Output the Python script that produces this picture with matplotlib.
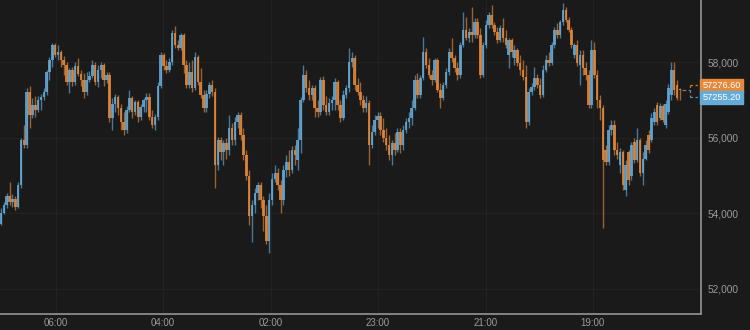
import numpy as np
import matplotlib
matplotlib.use('Agg')
import matplotlib.pyplot as plt
from matplotlib.ticker import FuncFormatter

plt.rcParams['font.family'] = ['Liberation Sans', 'DejaVu Sans']

# candle data (oldest on the left)
opens = [53730, 54020, 54210, 54450, 54290, 54390, 54180, 54740, 55930, 55800,
         57200, 56590, 56860, 56720, 56990, 57070, 57200, 57730, 58050, 58450,
         58180, 58260, 58050, 57920, 57470, 57790, 57470, 57890, 57680, 57520,
         57200, 57520, 57630, 57920, 57470, 57790, 57920, 57520, 57650, 56510,
         56880, 57070, 56780, 56410, 56200, 56720, 57040, 56670, 56940, 56540,
         56800, 56990, 57070, 56540, 56330, 56540, 57360, 58180, 57890, 57790,
         58000, 58770, 58450, 58370, 58710, 57920, 57390, 57730, 57310, 58130,
         57470, 57120, 56780, 57150, 57390, 57200, 55270, 55930, 55610, 55850,
         55670, 56250, 55930, 56410, 56590, 56060, 55530, 55000, 53940, 54210,
         54550, 54740, 54340, 53940, 53280, 54340, 54920, 55080, 54740, 54340,
         55140, 55350, 55140, 55670, 55400, 55930, 56990, 57650, 57310, 57120,
         57310, 56780, 56670, 57520, 56860, 56670, 56910, 56990, 57470, 56860,
         56510, 57120, 57310, 58000, 58100, 57390, 57200, 56990, 56780, 56910,
         55800, 56140, 56460, 56570, 56200, 55980, 55800, 55530, 55850, 55670,
         56140, 55800, 56200, 56410, 56510, 56780, 57520, 57120, 57570, 58260,
         57920, 57650, 57520, 58050, 57260, 57040, 57390, 57730, 58260, 58100,
         57840, 57650, 58450, 58850, 58630, 58790, 58710, 59060, 58710, 57650,
         58450, 58980, 59240, 58980, 58790, 58580, 58900, 58630, 58180, 58580,
         58100, 58320, 57970, 57790, 57600, 56410, 57200, 57330, 57570, 57390,
         57120, 57790, 58050, 57970, 58450, 58850, 58710, 59060, 59380, 59110,
         58850, 58180, 58450, 57920, 58180, 57840, 57650, 56860, 58320, 57650,
         56990, 56780, 55670, 55350, 56200, 56330, 55670, 55270, 55610, 54610,
         55610, 55000, 55880, 55400, 55930, 55060, 55450, 56060, 55930, 56410,
         56860, 56510, 56830, 56330, 56670, 57120, 57790, 57390, 57290]
highs = [54130, 54290, 54530, 54820, 54500, 54450, 54820, 55980, 56330, 57310,
         57360, 57040, 57100, 57100, 57150, 57310, 57790, 58130, 58500, 58500,
         58450, 58320, 58160, 58000, 57840, 57860, 58000, 58100, 57790, 57710,
         57730, 57760, 58050, 58000, 57920, 58000, 57970, 57730, 57730, 57040,
         57150, 57120, 56880, 56670, 56830, 57260, 57100, 56990, 56990, 56880,
         57040, 57180, 57180, 56720, 56620, 57470, 58260, 58240, 58050, 58100,
         58850, 58950, 58580, 58770, 58770, 58050, 58000, 58050, 58260, 58180,
         57840, 57260, 57260, 57470, 57520, 57310, 56010, 56010, 55930, 55980,
         56590, 56380, 56540, 56670, 56670, 56250, 55670, 55140, 54340, 54660,
         54820, 54820, 54470, 54210, 54550, 55080, 55270, 55190, 54870, 55270,
         55530, 55670, 55770, 55800, 56270, 57070, 57920, 57790, 57520, 57390,
         57390, 56990, 57600, 57630, 57100, 57040, 57100, 57570, 57520, 56990,
         57260, 57390, 58370, 58260, 58180, 57570, 57470, 57120, 57100, 56990,
         56330, 56590, 56670, 56670, 56510, 56250, 56060, 55930, 56120, 56250,
         56250, 56330, 56510, 56670, 56990, 57650, 57710, 57650, 58660, 58370,
         58100, 57790, 58100, 58100, 57440, 57470, 57840, 58370, 58630, 58180,
         58000, 58530, 59320, 59190, 58900, 59460, 59160, 59160, 58900, 58530,
         59110, 59320, 59510, 59060, 58920, 58980, 59160, 58850, 58630, 58630,
         58450, 58370, 58180, 58050, 57920, 57310, 57440, 57860, 57680, 57570,
         57920, 58180, 58260, 58530, 58920, 59030, 59110, 59560, 59460, 59190,
         58920, 58500, 58580, 58320, 58320, 58000, 57790, 58580, 58530, 57790,
         57120, 56860, 55800, 56330, 56460, 56460, 55880, 55720, 55670, 55400,
         55670, 55880, 55980, 56250, 55980, 55610, 55930, 56200, 56650, 56780,
         56940, 56910, 56880, 56990, 57410, 58000, 58000, 57520, 57310]
lows = [53680, 53970, 54130, 54210, 54180, 54080, 54130, 54680, 55720, 55740,
        56270, 56510, 56540, 56670, 56720, 56990, 57120, 57520, 57860, 58130,
        58050, 57860, 57650, 57390, 57180, 57360, 57390, 57630, 57360, 57040,
        57120, 57470, 57570, 57390, 57330, 57570, 57360, 57440, 56410, 56200,
        56670, 56590, 56200, 56060, 56120, 56670, 56510, 56590, 56410, 56460,
        56670, 56670, 56460, 56250, 56200, 56460, 57310, 57790, 57710, 57730,
        57920, 58370, 58320, 58320, 57710, 57310, 57310, 57200, 57260, 57390,
        57040, 56670, 56670, 57040, 57100, 54660, 55140, 55400, 55270, 55450,
        55530, 55800, 55800, 56250, 55930, 55400, 54870, 53680, 53230, 54020,
        54340, 54150, 53540, 53200, 52940, 54210, 54820, 54610, 54000, 54210,
        54950, 55000, 55060, 55270, 55140, 55590, 56940, 57200, 56990, 56990,
        56540, 56540, 56590, 56720, 56590, 56590, 56720, 56720, 56720, 56410,
        56460, 57040, 57200, 57860, 57260, 57120, 56860, 56670, 56670, 55270,
        55720, 56060, 56250, 56060, 55880, 55670, 55400, 55270, 55530, 55610,
        55590, 55670, 56120, 56250, 56330, 56720, 57040, 57040, 57520, 57840,
        57570, 57390, 57470, 57200, 56780, 56990, 57310, 57650, 58000, 57730,
        57520, 57570, 58390, 58580, 58530, 58530, 58630, 58630, 57570, 57600,
        58370, 58900, 58900, 58710, 58500, 58530, 58530, 58370, 57840, 58130,
        57920, 57890, 57650, 57520, 56270, 56330, 57120, 57260, 57310, 57040,
        57070, 57730, 57890, 57920, 58370, 58630, 58630, 58980, 59060, 58790,
        58370, 58100, 57890, 57390, 57650, 57520, 56780, 56780, 57570, 56780,
        56460, 53600, 55270, 55270, 56060, 55530, 55450, 55080, 54610, 54450,
        54740, 54870, 55320, 55350, 54980, 54740, 55400, 55590, 55880, 56330,
        56330, 56460, 56410, 56270, 56620, 56990, 57120, 56990, 56990]
closes = [54020, 54210, 54450, 54290, 54390, 54180, 54740, 55930, 55800, 57200,
          56590, 56860, 56720, 56990, 57070, 57200, 57730, 58050, 58450, 58180,
          58260, 58050, 57920, 57470, 57790, 57470, 57890, 57680, 57520, 57200,
          57520, 57630, 57920, 57470, 57790, 57920, 57520, 57650, 56510, 56880,
          57070, 56780, 56410, 56200, 56720, 57040, 56670, 56940, 56540, 56800,
          56990, 57070, 56540, 56330, 56540, 57360, 58180, 57890, 57790, 58000,
          58770, 58450, 58370, 58710, 57920, 57390, 57730, 57310, 58130, 57470,
          57120, 56780, 57150, 57390, 57200, 55270, 55930, 55610, 55850, 55670,
          56250, 55930, 56410, 56590, 56060, 55530, 55000, 53940, 54210, 54550,
          54740, 54340, 53940, 53280, 54340, 54920, 55080, 54740, 54340, 55140,
          55350, 55140, 55670, 55530, 55930, 56990, 57650, 57310, 57120, 57310,
          56780, 56670, 57520, 56860, 56670, 56910, 56990, 57470, 56860, 56510,
          57120, 57310, 58000, 58100, 57390, 57200, 56990, 56780, 56910, 55800,
          56140, 56460, 56570, 56200, 55980, 55800, 55530, 55850, 55670, 56140,
          55800, 56200, 56410, 56510, 56780, 57520, 57120, 57570, 58260, 57920,
          57650, 57520, 58050, 57260, 57040, 57390, 57730, 58260, 58100, 57840,
          57650, 58450, 58850, 58630, 58790, 58710, 59060, 58710, 57650, 58450,
          58980, 59240, 58980, 58790, 58580, 58900, 58630, 58450, 58580, 58260,
          58320, 57970, 57790, 57600, 56410, 57200, 57330, 57570, 57390, 57120,
          57790, 58050, 57970, 58450, 58850, 58710, 59060, 59380, 59110, 58850,
          58450, 58450, 57970, 58180, 57840, 57650, 56860, 58320, 57650, 56990,
          56780, 55400, 55350, 56200, 56330, 55670, 55530, 55610, 54740, 55270,
          54870, 55800, 55400, 55930, 55060, 55450, 55800, 55670, 56510, 56670,
          56410, 56830, 56460, 56880, 57310, 57790, 57260, 57040, 57255.2]

ask_last = 57276.60
bid_last = 57255.20

time_pos = [19.3, 56.8, 94.6, 132.1, 170.0, 207.5]
time_lbl = ['06:00', '04:00', '02:00', '23:00', '21:00', '19:00']
price_ticks = [52000, 54000, 56000, 58000]

# colours
bg = '#1a1a1a'
blue = '#66abd8'
orange = '#e6893a'
grid = '#222222'
axcol = '#8c8c8c'
txt = '#9a9a9a'

o = np.array(opens, dtype=float); h = np.array(highs, dtype=float)
l = np.array(lows, dtype=float);  c = np.array(closes, dtype=float)
x = np.arange(len(c))
up = c >= o
cols = np.where(up, blue, orange)

fig = plt.figure(figsize=(7.5, 3.3), dpi=100, facecolor=bg)
ax = fig.add_axes([0, 16/330, 701/750, 314/330], facecolor=bg)

ax.vlines(x, l, h, colors=cols, linewidth=1, alpha=0.65, zorder=2)
ax.bar(x, np.abs(c - o), bottom=np.minimum(o, c), width=0.9, color=cols,
       alpha=0.85, linewidth=0, zorder=3)

ax.set_xlim(-0.35, 245.4)
ax.set_ylim(51338, 59642)

# grid
for p in price_ticks:
    ax.axhline(p, color=grid, lw=0.8, zorder=1)
for t in time_pos:
    ax.axvline(t, color=grid, lw=0.8, zorder=1)

# axes
for s in ['top', 'left']:
    ax.spines[s].set_visible(False)
ax.spines['right'].set_color(axcol); ax.spines['right'].set_linewidth(1.3)
ax.spines['bottom'].set_color(axcol); ax.spines['bottom'].set_linewidth(1.3)
ax.yaxis.tick_right()
ax.set_yticks(price_ticks)
ax.yaxis.set_major_formatter(FuncFormatter(lambda v, p: '{:,.0f}'.format(v)))
ax.set_xticks(time_pos)
ax.set_xticklabels(time_lbl)
ax.tick_params(axis='y', length=0, pad=5, labelsize=7.3, labelcolor=txt)
ax.tick_params(axis='x', length=0, pad=3, labelsize=7, labelcolor=txt)

# last price markers on the right
ask_lbl = ask_last + 115
bid_lbl = bid_last - 185
xb = 245.4 - 11 / 2.853
last = x[-1]
ax.plot([last + 0.6, xb], [bid_last, bid_last], ls=(0, (3, 2)), color='#8a7a6a', lw=0.9, zorder=4)
ax.plot([xb, xb], [ask_lbl, bid_last], ls=(0, (2, 2)), color=orange, lw=0.9, alpha=0.8, zorder=4)
ax.plot([xb, xb], [bid_last, bid_lbl], ls=(0, (2, 2)), color=blue, lw=0.9, alpha=0.8, zorder=4)
ax.plot([xb, 245.4], [ask_lbl, ask_lbl], ls=(0, (2, 2)), color=orange, lw=0.9, alpha=0.8, zorder=4, clip_on=False)
ax.plot([xb, 245.4], [bid_lbl, bid_lbl], ls=(0, (2, 2)), color=blue, lw=0.9, alpha=0.8, zorder=4, clip_on=False)

ax.text(245.9, ask_lbl, '%.2f' % ask_last, fontsize=6.6, color='white', ha='left', va='center',
        bbox=dict(boxstyle='square,pad=0.22', facecolor=orange, edgecolor=orange), clip_on=False, zorder=5)
ax.text(245.9, bid_lbl, '%.2f' % bid_last, fontsize=6.6, color='white', ha='left', va='center',
        bbox=dict(boxstyle='square,pad=0.22', facecolor=blue, edgecolor=blue), clip_on=False, zorder=5)

plt.savefig('out.png', dpi=100, facecolor=bg)
